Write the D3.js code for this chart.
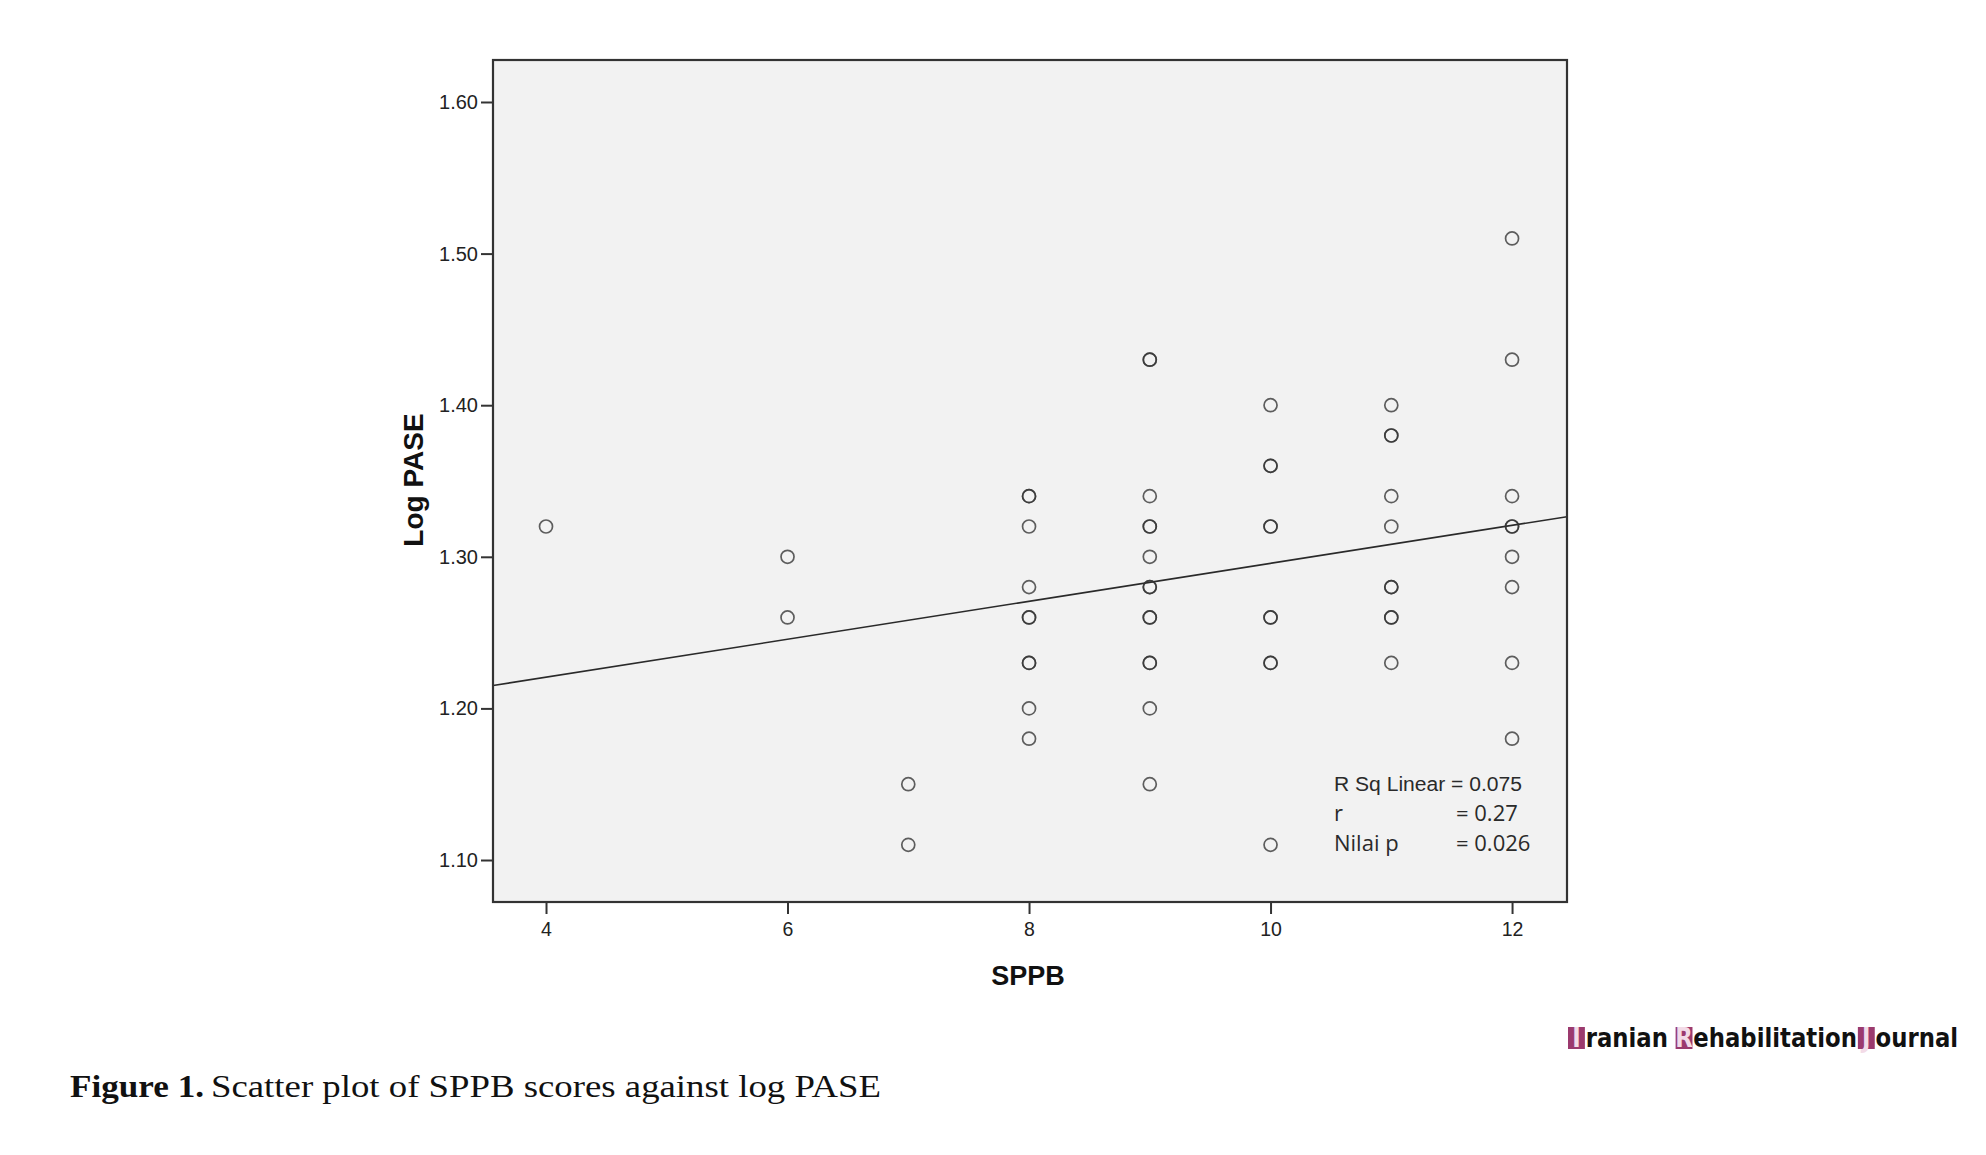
<!DOCTYPE html>
<html>
<head>
<meta charset="utf-8">
<script src="https://cdn.jsdelivr.net/npm/d3@7/dist/d3.min.js"></script>
<style>
  html, body { margin: 0; padding: 0; background: #ffffff; }
  svg { display: block; }
</style>
</head>
<body>
<svg id="chart" width="1986" height="1155"></svg>
<script>
// ---------------- DATA ----------------
const sppbScores = [
  4,
  6, 6,
  7, 7,
  8, 8, 8, 8, 8, 8, 8, 8, 8, 8,
  9, 9, 9, 9, 9, 9, 9, 9, 9, 9, 9, 9, 9, 9,
  10, 10, 10, 10, 10, 10, 10, 10, 10, 10,
  11, 11, 11, 11, 11, 11, 11, 11, 11, 11,
  12, 12, 12, 12, 12, 12, 12, 12, 12
];
const logPase = [
  1.32,
  1.30, 1.26,
  1.15, 1.11,
  1.34, 1.34, 1.32, 1.28, 1.26, 1.26, 1.23, 1.23, 1.20, 1.18,
  1.43, 1.43, 1.34, 1.32, 1.32, 1.30, 1.28, 1.28, 1.26, 1.26, 1.23, 1.23, 1.20, 1.15,
  1.40, 1.36, 1.36, 1.32, 1.32, 1.26, 1.26, 1.23, 1.23, 1.11,
  1.40, 1.38, 1.38, 1.34, 1.32, 1.28, 1.28, 1.26, 1.26, 1.23,
  1.51, 1.43, 1.34, 1.32, 1.32, 1.30, 1.28, 1.23, 1.18
];
const xTicks = [4, 6, 8, 10, 12];
const yTicks = [1.10, 1.20, 1.30, 1.40, 1.50, 1.60];
const fitIntercept = 1.1705;
const fitSlope = 0.01252;
const statLines = [
  { label: "R Sq Linear = 0.075", value: "" },
  { label: "r", value: "= 0.27" },
  { label: "Nilai p", value: "= 0.026" }
];
const xTitle = "SPPB";
const yTitle = "Log PASE";
const captionBold = "Figure 1.";
const captionText = "Scatter plot of SPPB scores against log PASE";
const logoParts = ["I", "ranian ", "R", "ehabilitation", "J", "ournal"];

// ---------------- LAYOUT ----------------
const svg = d3.select("#chart");
const frame = { left: 493, right: 1567, top: 60, bottom: 902 };

const x = d3.scaleLinear().domain([3.561, 12.455]).range([frame.left, frame.right]);
const y = d3.scaleLinear().domain([1.0723, 1.6277]).range([frame.bottom, frame.top]);

svg.append("rect").attr("width", 1986).attr("height", 1155).attr("fill", "#ffffff");

svg.append("rect")
  .attr("x", frame.left).attr("y", frame.top)
  .attr("width", frame.right - frame.left).attr("height", frame.bottom - frame.top)
  .attr("fill", "#f2f2f2");

svg.append("clipPath").attr("id", "clip")
  .append("rect")
  .attr("x", frame.left).attr("y", frame.top)
  .attr("width", frame.right - frame.left).attr("height", frame.bottom - frame.top);

// axes
const axisFont = "'Liberation Sans', Arial, sans-serif";
const yAxis = d3.axisLeft(y).tickValues(yTicks).tickFormat(d3.format(".2f")).tickSize(12).tickPadding(3);
const gy = svg.append("g").attr("transform", `translate(${frame.left},0)`).call(yAxis);
gy.select(".domain").remove();
gy.selectAll(".tick line").attr("stroke", "#333").attr("stroke-width", 2);
gy.selectAll(".tick text").attr("font-family", axisFont).attr("font-size", 20).attr("fill", "#222");

const xAxis = d3.axisBottom(x).tickValues(xTicks).tickFormat(d3.format("d")).tickSize(12).tickPadding(8);
const gx = svg.append("g").attr("transform", `translate(0,${frame.bottom})`).call(xAxis);
gx.select(".domain").remove();
gx.selectAll(".tick line").attr("stroke", "#333").attr("stroke-width", 2);
gx.selectAll(".tick text").attr("font-family", axisFont).attr("font-size", 19.5).attr("fill", "#222");

// regression line
const xd = x.domain();
svg.append("line")
  .attr("clip-path", "url(#clip)")
  .attr("x1", x(xd[0])).attr("y1", y(fitIntercept + fitSlope * xd[0]))
  .attr("x2", x(xd[1])).attr("y2", y(fitIntercept + fitSlope * xd[1]))
  .attr("stroke", "#2a2a2a").attr("stroke-width", 1.6);

// points
const pts = sppbScores.map((s, i) => ({ s, v: logPase[i] }));
svg.append("g").selectAll("circle").data(pts).join("circle")
  .attr("cx", d => x(d.s)).attr("cy", d => y(d.v))
  .attr("r", 6.5)
  .attr("fill", "none")
  .attr("stroke", "#333")
  .attr("stroke-opacity", 0.78)
  .attr("stroke-width", 1.7);

// frame
svg.append("rect")
  .attr("x", frame.left).attr("y", frame.top)
  .attr("width", frame.right - frame.left).attr("height", frame.bottom - frame.top)
  .attr("fill", "none").attr("stroke", "#333").attr("stroke-width", 2.2);

// stats annotation
const statX = 1334, statValX = 1456, statY0 = 791, statDy = 30;
statLines.forEach((d, i) => {
  const first = i === 0;
  const t = svg.append("text")
    .attr("x", statX).attr("y", statY0 + i * statDy)
    .attr("font-family", first ? axisFont : "'Open Sans', 'Noto Sans', sans-serif")
    .attr("font-size", first ? 20 : 22)
    .attr("fill", "#2a2a2a")
    .text(d.label);
  if (first) t.attr("textLength", 188).attr("lengthAdjust", "spacingAndGlyphs");
  if (d.value) {
    svg.append("text")
      .attr("x", statValX).attr("y", statY0 + i * statDy)
      .attr("font-family", "'Open Sans', 'Noto Sans', sans-serif")
      .attr("font-size", 22)
      .attr("fill", "#2a2a2a")
      .text(d.value);
  }
});

// axis titles
svg.append("text")
  .attr("x", (frame.left + frame.right) / 2 - 2).attr("y", 985)
  .attr("text-anchor", "middle")
  .attr("font-family", axisFont).attr("font-weight", "bold").attr("font-size", 27)
  .attr("fill", "#111")
  .text(xTitle);

svg.append("text")
  .attr("transform", "translate(423,480) rotate(-90)")
  .attr("text-anchor", "middle")
  .attr("font-family", axisFont).attr("font-weight", "bold").attr("font-size", 28)
  .attr("fill", "#111")
  .text(yTitle);

// logo: separate pieces laid out left to right, then scaled to fit
const logoLeft = 1568, logoWidth = 391, logoBase = 1047, boxW = 20;
const logo = svg.append("g");
let cursor = 0;
logoParts.forEach((p, i) => {
  const boxed = i % 2 === 0;
  if (boxed) {
    logo.append("rect")
      .attr("x", cursor).attr("y", -20)
      .attr("width", boxW).attr("height", 22)
      .attr("fill", "#9b3a6e");
    logo.append("text")
      .attr("x", cursor + boxW / 2).attr("y", 0)
      .attr("text-anchor", "middle")
      .attr("font-family", "'DejaVu Sans', sans-serif")
      .attr("font-weight", "bold").attr("font-size", 27)
      .attr("fill", "#f3dbe7")
      .text(p);
    cursor += boxW + 1;
  } else {
    const t = logo.append("text")
      .attr("x", cursor).attr("y", 0)
      .attr("font-family", "'DejaVu Sans', sans-serif")
      .attr("font-weight", "bold").attr("font-size", 27)
      .attr("fill", "#111")
      .text(p.trimEnd());
    const w = t.node().getComputedTextLength();
    cursor += w + (p.endsWith(" ") ? 9 : 1);
  }
});
const sx = logoWidth / cursor;
logo.attr("transform", `translate(${logoLeft},${logoBase}) scale(${sx},1)`);

// caption
const capFont = "'Liberation Serif', 'DejaVu Serif', serif";
svg.append("text")
  .attr("x", 70).attr("y", 1097)
  .attr("font-family", capFont).attr("font-weight", "bold").attr("font-size", 32)
  .attr("textLength", 134).attr("lengthAdjust", "spacingAndGlyphs")
  .attr("fill", "#111")
  .text(captionBold);
svg.append("text")
  .attr("x", 211).attr("y", 1097)
  .attr("font-family", capFont).attr("font-size", 32)
  .attr("textLength", 670).attr("lengthAdjust", "spacingAndGlyphs")
  .attr("fill", "#111")
  .text(captionText);
</script>
</body>
</html>
